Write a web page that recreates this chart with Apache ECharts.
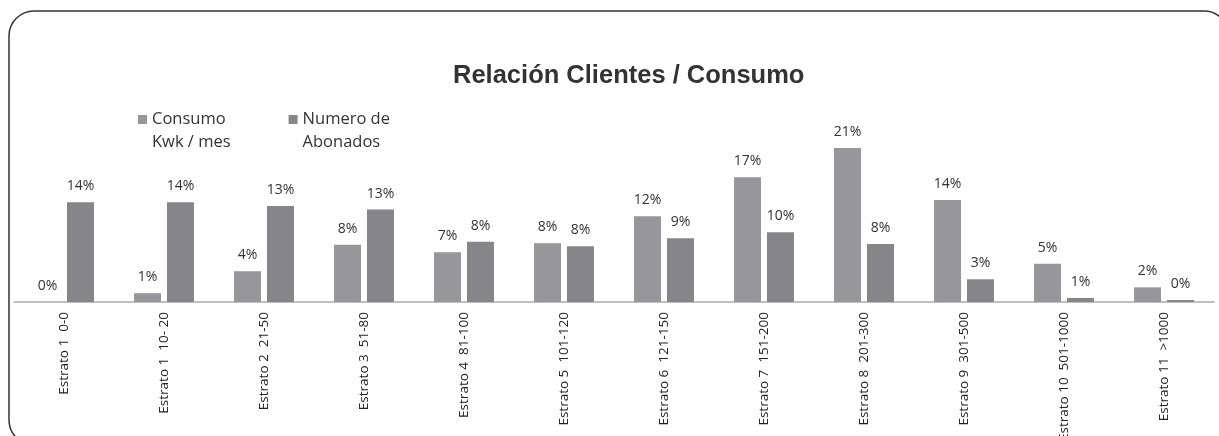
<!DOCTYPE html>
<html>
<head>
<meta charset="utf-8">
<script src="https://cdn.jsdelivr.net/npm/echarts@6/dist/echarts.min.js"></script>
<style>html,body{margin:0;padding:0;background:#fff}#c{width:1219px;height:436px}</style>
</head>
<body>
<div id="c"></div>
<script>
var categories = ['Estrato 1  0-0','Estrato 1  10- 20','Estrato 2  21-50','Estrato 3  51-80','Estrato 4  81-100','Estrato 5  101-120','Estrato 6  121-150','Estrato 7  151-200','Estrato 8  201-300','Estrato 9  301-500','Estrato 10  501-1000','Estrato 11  >1000'];
var consumo = [0.0, 1.2, 4.2, 7.8, 6.8, 8.0, 11.7, 17.0, 21.0, 13.9, 5.2, 2.0];
var abonados = [13.6, 13.6, 13.1, 12.6, 8.2, 7.6, 8.7, 9.5, 7.9, 3.1, 0.55, 0.27];
var seriesNames = ['Consumo\nKwk / mes', 'Numero de\nAbonados'];

var chart = echarts.init(document.getElementById('c'));
var lbl = {show:true, position:'top', distance:9, color:'#333', fontFamily:'Open Sans', fontSize:14,
  formatter:function(p){return Math.round(p.value)+'%';}};
chart.setOption({
  animation:false,
  title:{text:'Relación Clientes / Consumo', left:448, top:58,
    textStyle:{fontFamily:'Liberation Sans', fontWeight:'bold', fontSize:25.5, color:'#333'}},
  legend:{left:133, top:80, itemWidth:9, itemHeight:9, itemGap:58, icon:'rect',
    formatter:function(n){return ' \n'+n;},
    textStyle:{fontFamily:'Open Sans', fontSize:16.5, color:'#333', lineHeight:23},
    data:seriesNames},
  grid:{left:14, right:5, top:82, bottom:134, containLabel:false, outerBoundsMode:'none'},
  xAxis:{type:'category', data:categories,
    axisLine:{lineStyle:{color:'#aaa', width:1.5}}, axisTick:{show:false},
    axisLabel:{rotate:90, interval:0, margin:10, color:'#222', fontFamily:'Open Sans', fontSize:13.5}},
  yAxis:{type:'value', min:0, max:30, show:false, splitLine:{show:false}},
  series:[
    {name:seriesNames[0], type:'bar', data:consumo, barWidth:27, barGap:'22%', itemStyle:{color:'#97979b'}, label:lbl},
    {name:seriesNames[1], type:'bar', data:abonados, barWidth:27, itemStyle:{color:'#86868a'}, label:lbl}
  ],
  graphic:[{type:'rect', shape:{x:9, y:11, width:1220, height:434, r:25}, silent:true,
    style:{fill:'none', stroke:'#333', lineWidth:1.5}}]
});
</script>
</body>
</html>
